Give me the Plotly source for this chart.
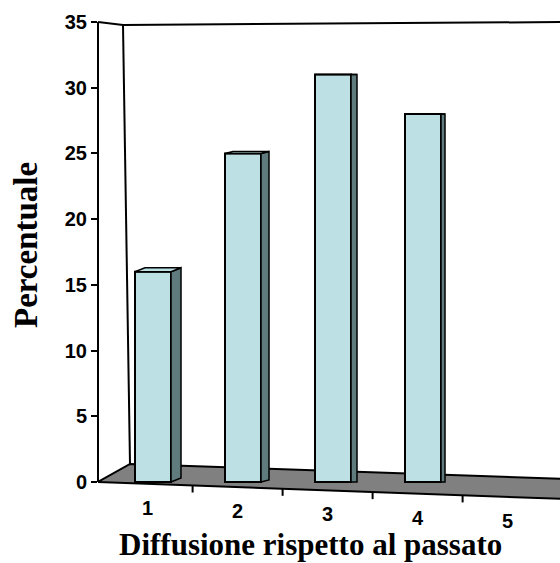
import plotly.graph_objects as go

# ---------------- data ----------------
categories = [1, 2, 3, 4, 5]
values = [16, 25, 31, 28, 0]
y_ticks = [0, 5, 10, 15, 20, 25, 30, 35]
x_title = "Diffusione rispetto al passato"
y_title = "Percentuale"

# ---------------- geometry ----------------
W, H = 560, 563
L, R, T, B = 98, 0, 9, 15
Y0_PX = 482            # pixel row of value 0 on the left axis
KY = 460 / 35          # pixels per unit (y)
KX = 90                # pixels per category (x)
X1_PX = 153            # pixel column of first bar centre
BAR_W = 0.40

x_lo = categories[0] - (X1_PX - L) / KX
x_hi = x_lo + (W - L - R) / KX
y_hi = (Y0_PX - T) / KY
y_lo = -(H - B - Y0_PX) / KY


def dx(px):
    return x_lo + (px - L) / KX


def dy(py):
    return (Y0_PX - py) / KY


def front_edge_py(px):
    return 482 + (px - 97) * 17 / 463


FRONT = "#bce0e3"
SIDE = "#5f7b7d"
FLOOR = "#808080"


def path(points):
    return "M " + " L ".join(f"{x},{y}" for x, y in points) + " Z"


def line_path(points):
    return "M " + " L ".join(f"{x},{y}" for x, y in points)


shapes = []
# floor
floor_px = [(98, 482), (130, 464), (565, 479), (565, 499)]
shapes.append(dict(type="path", xref="x", yref="y", layer="below",
                   path=path([(dx(a), dy(b)) for a, b in floor_px]),
                   fillcolor=FLOOR, line=dict(color="black", width=2)))
# back wall left edge
shapes.append(dict(type="path", xref="x", yref="y", layer="below",
                   path=line_path([(dx(123), dy(25)), (dx(130), dy(464))]),
                   line=dict(color="black", width=2)))
# top edges
shapes.append(dict(type="path", xref="x", yref="y", layer="below",
                   path=line_path([(dx(98), dy(22)), (dx(123), dy(25)), (dx(565), dy(22))]),
                   line=dict(color="black", width=2)))
# left axis line
shapes.append(dict(type="line", xref="paper", yref="y", x0=0, x1=0,
                   y0=y_ticks[0], y1=y_ticks[-1], line=dict(color="black", width=2)))

# x tick marks on front floor edge
for c in categories[:-1]:
    xt = c + 0.5 - 0.06
    pxt = X1_PX + (xt - categories[0]) * KX
    pyt = front_edge_py(pxt)
    shapes.append(dict(type="line", xref="x", yref="y", x0=xt, x1=xt,
                       y0=dy(pyt), y1=dy(pyt + 7), line=dict(color="black", width=2)))

# bar side and top faces (derived from values)
for i, (c, v) in enumerate(zip(categories, values)):
    if v <= 0:
        continue
    d = (10 - 2 * i) / KX
    e = max(0, 4 - 2 * i) / KY
    xl, xr = c - BAR_W / 2, c + BAR_W / 2
    shapes.append(dict(type="path", xref="x", yref="y", layer="above",
                       path=path([(xr, 0), (xr + d, e), (xr + d, v + e), (xr, v)]),
                       fillcolor=SIDE, line=dict(color="black", width=1.5)))
    shapes.append(dict(type="path", xref="x", yref="y", layer="above",
                       path=path([(xl, v), (xl + d, v + e), (xr + d, v + e), (xr, v)]),
                       fillcolor=FRONT, line=dict(color="black", width=1.5)))

fig = go.Figure()
fig.add_trace(go.Bar(x=categories, y=[v if v > 0 else None for v in values], width=BAR_W,
                     marker=dict(color=FRONT, line=dict(color="black", width=2)),
                     hoverinfo="skip"))

annotations = []
for c in categories:
    xa = c - 0.06
    pxa = X1_PX + (xa - categories[0]) * KX
    annotations.append(dict(x=xa, y=dy(front_edge_py(pxa) + 24), xref="x", yref="y",
                            text=f"<b>{c}</b>", showarrow=False, xanchor="center",
                            yanchor="middle",
                            font=dict(family="Liberation Sans, Arial", size=20,
                                      color="black")))
annotations.append(dict(x=dx(310), y=dy(544), xref="x", yref="y", text=f"<b>{x_title}</b>",
                        showarrow=False, xanchor="center", yanchor="middle",
                        font=dict(family="Liberation Serif, Times New Roman", size=31,
                                  color="black")))
annotations.append(dict(x=(26 - L) / (W - L - R), y=dy(245), xref="paper", yref="y",
                        text=f"<b>{y_title}</b>", showarrow=False, textangle=-90,
                        xanchor="center", yanchor="middle",
                        font=dict(family="Liberation Serif, Times New Roman", size=33,
                                  color="black")))

fig.update_layout(
    width=W, height=H,
    margin=dict(l=L, r=R, t=T, b=B, pad=0),
    paper_bgcolor="white", plot_bgcolor="white",
    showlegend=False,
    shapes=shapes,
    annotations=annotations,
    xaxis=dict(range=[x_lo, x_hi], showgrid=False, zeroline=False,
               showticklabels=False, ticks="", showline=False, fixedrange=True),
    yaxis=dict(range=[y_lo, y_hi], tickvals=y_ticks,
               ticktext=[f"<b>{t}</b>" for t in y_ticks],
               showgrid=False, zeroline=False, showline=False,
               ticks="outside", ticklen=6, tickwidth=2, tickcolor="black",
               tickfont=dict(family="Liberation Sans, Arial", size=20, color="black"),
               fixedrange=True),
)

fig.write_html("out.html")
